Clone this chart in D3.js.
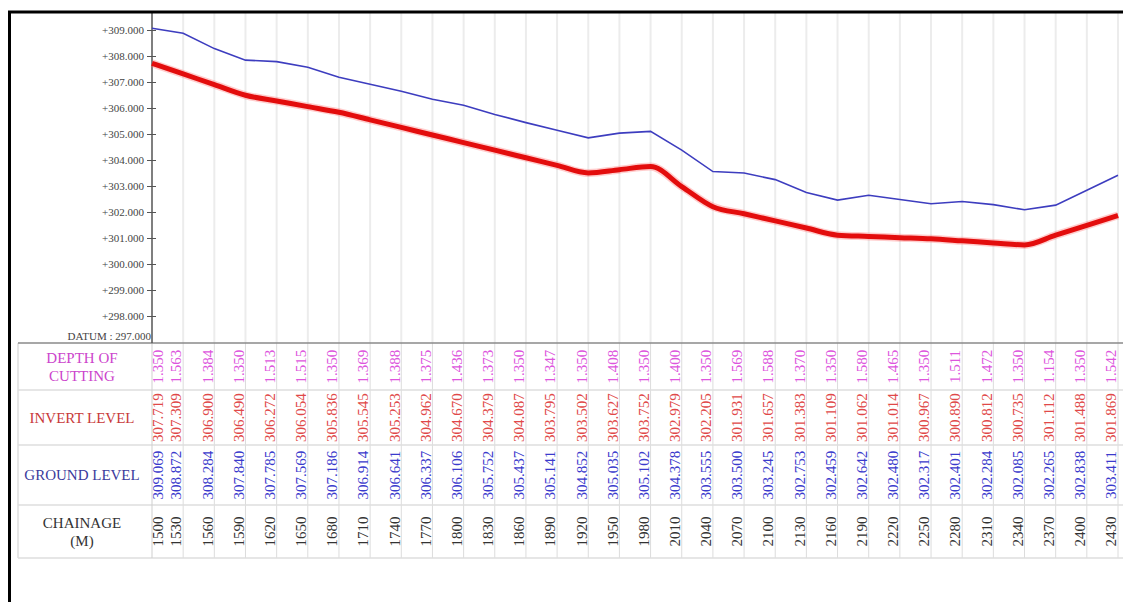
<!DOCTYPE html>
<html>
<head>
<meta charset="utf-8">
<script src="https://cdn.jsdelivr.net/npm/d3@7"></script>
<style>
  body { margin: 0; background: #fff; }
  svg { display: block; font-family: "Liberation Serif", "DejaVu Serif", serif; }
</style>
</head>
<body>
<div id="chart"></div>
<script>
const chainage = [1500, 1530, 1560, 1590, 1620, 1650, 1680, 1710, 1740, 1770, 1800, 1830, 1860, 1890, 1920, 1950,
  1980, 2010, 2040, 2070, 2100, 2130, 2160, 2190, 2220, 2250, 2280, 2310, 2340, 2370, 2400, 2430];
const groundLevel = [309.069, 308.872, 308.284, 307.840, 307.785, 307.569, 307.186, 306.914, 306.641, 306.337,
  306.106, 305.752, 305.437, 305.141, 304.852, 305.035, 305.102, 304.378, 303.555, 303.500, 303.245, 302.753,
  302.459, 302.642, 302.480, 302.317, 302.401, 302.284, 302.085, 302.265, 302.838, 303.411];
const invertLevel = [307.719, 307.309, 306.900, 306.490, 306.272, 306.054, 305.836, 305.545, 305.253, 304.962,
  304.670, 304.379, 304.087, 303.795, 303.502, 303.627, 303.752, 302.979, 302.205, 301.931, 301.657, 301.383,
  301.109, 301.062, 301.014, 300.967, 300.890, 300.812, 300.735, 301.112, 301.488, 301.869];
const depthOfCutting = [1.350, 1.563, 1.384, 1.350, 1.513, 1.515, 1.350, 1.369, 1.388, 1.375, 1.436, 1.373,
  1.350, 1.347, 1.350, 1.408, 1.350, 1.400, 1.350, 1.569, 1.588, 1.370, 1.350, 1.580, 1.465, 1.350, 1.511,
  1.472, 1.350, 1.154, 1.350, 1.542];
const levelTicks = [298, 299, 300, 301, 302, 303, 304, 305, 306, 307, 308, 309];
const datum = 297;

const w = 1123;
const h = 602;

const svg = d3.select("#chart").append("svg").attr("width", w).attr("height", h);

const xScale = d3.scaleLinear().domain([1500, 2430]).range([152, 1118]);
const yScale = d3.scaleLinear().domain([datum, 309]).range([342, 30]);

const tableTop = 343;
const rows = [
  { key: "depth", top: 343, bottom: 390, color: "#dd55dd", lines: ["DEPTH OF", "CUTTING"], labelColor: "#cc44cc",
    values: depthOfCutting, fmt: d3.format(".3f") },
  { key: "invert", top: 390, bottom: 445, color: "#e04848", lines: ["INVERT LEVEL"], labelColor: "#c83a3a",
    values: invertLevel, fmt: d3.format(".3f") },
  { key: "ground", top: 445, bottom: 505, color: "#3a3acc", lines: ["GROUND LEVEL"], labelColor: "#3a3a9c",
    values: groundLevel, fmt: d3.format(".3f") },
  { key: "chainage", top: 505, bottom: 558, color: "#333", lines: ["CHAINAGE", "(M)"], labelColor: "#333",
    values: chainage, fmt: d3.format("d") }
];

// vertical grid in the profile
svg.append("g")
  .selectAll("line")
  .data(chainage.slice(1))
  .enter()
  .append("line")
  .attr("x1", (d) => xScale(d))
  .attr("x2", (d) => xScale(d))
  .attr("y1", 12)
  .attr("y2", tableTop)
  .attr("stroke", "#ececec")
  .attr("stroke-width", 2);

// table grid
svg.append("g")
  .selectAll("line")
  .data(chainage.slice(1))
  .enter()
  .append("line")
  .attr("x1", (d) => xScale(d))
  .attr("x2", (d) => xScale(d))
  .attr("y1", tableTop)
  .attr("y2", 558)
  .attr("stroke", "#dcdcdc");

svg.append("g")
  .selectAll("line")
  .data(rows.map((r) => r.bottom))
  .enter()
  .append("line")
  .attr("x1", 18)
  .attr("x2", w)
  .attr("y1", (d) => d)
  .attr("y2", (d) => d)
  .attr("stroke", "#dedede")
  .attr("stroke-width", 1.5);

svg.append("line")
  .attr("x1", 18).attr("x2", 18)
  .attr("y1", tableTop).attr("y2", 558)
  .attr("stroke", "#dedede").attr("stroke-width", 1.5);

svg.append("line")
  .attr("x1", xScale(1500)).attr("x2", xScale(1500))
  .attr("y1", tableTop).attr("y2", 558)
  .attr("stroke", "#cfcfcf");

svg.append("line")
  .attr("x1", 18).attr("x2", w)
  .attr("y1", tableTop).attr("y2", tableTop)
  .attr("stroke", "#8a8a8a").attr("stroke-width", 1.5);

// level axis
const yAxis = d3.axisLeft(yScale)
  .tickValues(levelTicks)
  .tickSizeInner(5)
  .tickSizeOuter(0)
  .tickPadding(3)
  .tickFormat((d) => "+" + d3.format(".3f")(d));

const gy = svg.append("g")
  .attr("transform", "translate(" + xScale(1500) + ",0)")
  .call(yAxis);
gy.select(".domain").remove();
gy.selectAll(".tick line").attr("x2", 4).attr("x1", -5).attr("stroke", "#555");
gy.selectAll(".tick text")
  .attr("font-family", "Liberation Serif, serif")
  .attr("font-size", 11)
  .attr("fill", "#444");

svg.append("line")
  .attr("x1", xScale(1500)).attr("x2", xScale(1500))
  .attr("y1", 12).attr("y2", tableTop)
  .attr("stroke", "#555").attr("stroke-width", 1.5);

svg.append("text")
  .attr("x", xScale(1500) - 1)
  .attr("y", yScale(datum) - 2)
  .attr("text-anchor", "end")
  .attr("font-size", 11)
  .attr("fill", "#444")
  .text("DATUM :  " + d3.format(".3f")(datum));

// profile lines
const groundLine = d3.line()
  .x((d, i) => xScale(chainage[i]))
  .y((d) => yScale(d));

const invertLine = d3.line()
  .x((d, i) => xScale(chainage[i]))
  .y((d) => yScale(d))
  .curve(d3.curveMonotoneX);

svg.append("path")
  .datum(invertLevel)
  .attr("d", invertLine)
  .attr("fill", "none")
  .attr("stroke", "#ff7070")
  .attr("stroke-opacity", 0.35)
  .attr("stroke-width", 8);

svg.append("path")
  .datum(invertLevel)
  .attr("d", invertLine)
  .attr("fill", "none")
  .attr("stroke", "#e30d0d")
  .attr("stroke-width", 5)
  .attr("stroke-linejoin", "round");

svg.append("path")
  .datum(groundLevel)
  .attr("d", groundLine)
  .attr("fill", "none")
  .attr("stroke", "#3d3dbf")
  .attr("stroke-width", 1.6);

// table values, rotated
const labelX = (c) => Math.max(xScale(c) - 7, xScale(1500) + 6);

rows.forEach((r) => {
  const cy = (r.top + r.bottom) / 2;
  svg.append("g")
    .selectAll("text")
    .data(r.values)
    .enter()
    .append("text")
    .attr("transform", (d, i) => "translate(" + labelX(chainage[i]) + "," + cy + ") rotate(-90)")
    .attr("text-anchor", "middle")
    .attr("dy", "0.35em")
    .attr("font-size", 15)
    .attr("fill", r.color)
    .text((d) => r.fmt(d));

  const lh = 18;
  const y0 = cy - ((r.lines.length - 1) * lh) / 2;
  svg.append("text")
    .attr("text-anchor", "middle")
    .attr("font-size", 15)
    .attr("fill", r.labelColor)
    .selectAll("tspan")
    .data(r.lines)
    .enter()
    .append("tspan")
    .attr("x", 82)
    .attr("y", (d, i) => y0 + i * lh)
    .attr("dy", "0.35em")
    .text((d) => d);
});

// drawing frame
svg.append("line")
  .attr("x1", 8).attr("x2", w)
  .attr("y1", 12).attr("y2", 12)
  .attr("stroke", "#000").attr("stroke-width", 3);
svg.append("line")
  .attr("x1", 9.5).attr("x2", 9.5)
  .attr("y1", 12).attr("y2", h)
  .attr("stroke", "#000").attr("stroke-width", 3);
</script>
</body>
</html>
